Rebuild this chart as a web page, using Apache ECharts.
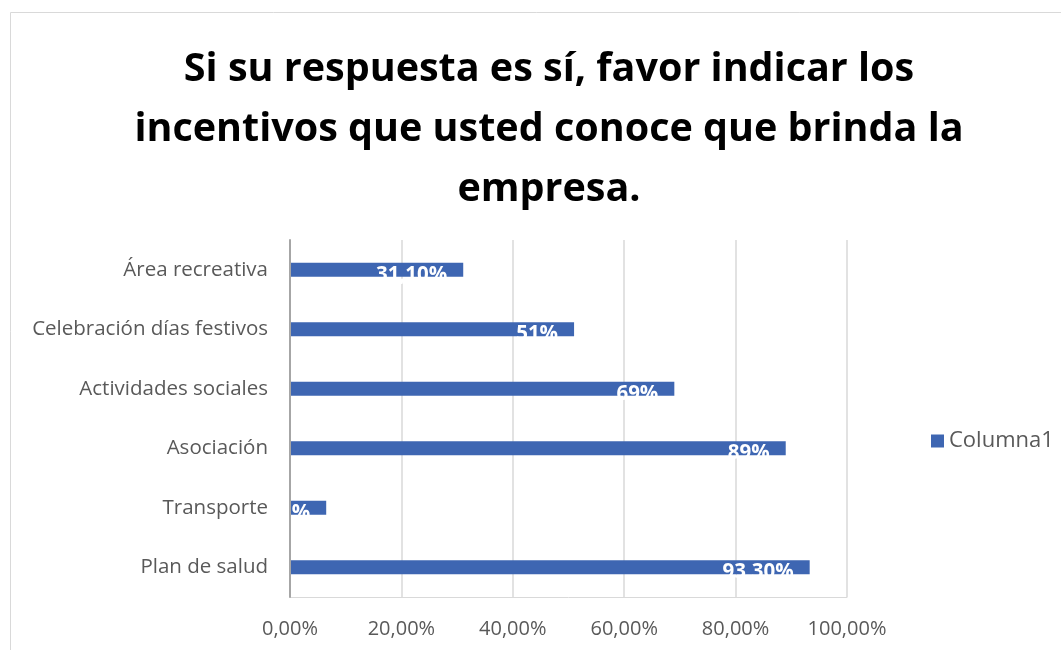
<!DOCTYPE html>
<html><head><meta charset="utf-8">
<script src="https://cdn.jsdelivr.net/npm/echarts@6/dist/echarts.min.js"></script>
<style>html,body{margin:0;padding:0;background:#fff}#c{width:1061px;height:650px}</style>
</head><body><div id="c"></div>
<script>
const titleText = "Si su respuesta es sí, favor indicar los\nincentivos que usted conoce que brinda la\nempresa.";
const categories = ["Plan de salud","Transporte","Asociación","Actividades sociales","Celebración días festivos","Área recreativa"];
const values = [93.3, 6.5, 89, 69, 51, 31.1];
const valueLabels = ["93,30%","6,50%","89%","69%","51%","31,10%"];
const xTicks = [0,20,40,60,80,100];
const seriesName = "Columna1";

const chart = echarts.init(document.getElementById('c'));
const font = "'Open Sans', 'Noto Sans', sans-serif";
chart.setOption({
  animation:false,
  graphic:[{type:'rect',shape:{x:10.5,y:12.5,width:1100,height:700},style:{fill:'none',stroke:'#d9d9d9',lineWidth:1},silent:true,z:-1}],
  title:{text:titleText,left:544,top:35,textAlign:'center',
    textStyle:{fontFamily:font,fontWeight:'bold',fontSize:39.5,lineHeight:60,color:'#000'}},
  legend:{data:[seriesName],left:926,top:425,itemWidth:13,itemHeight:13,icon:'rect',itemGap:6,
    textStyle:{fontFamily:font,fontSize:22,color:'#595959'}},
  grid:{left:290,right:214,top:240,bottom:53,containLabel:false},
  xAxis:{type:'value',min:0,max:100,interval:20,
    axisLabel:{fontFamily:font,fontSize:20,color:'#595959',margin:22,
      formatter:v=>v.toFixed(2).replace('.',',')+'%'},
    splitLine:{lineStyle:{color:'#d9d9d9',width:1.5}},
    axisLine:{show:true,lineStyle:{color:'#d9d9d9'}},axisTick:{show:false}},
  yAxis:{type:'category',data:categories,z:10,
    axisLabel:{fontFamily:font,fontSize:20.5,color:'#595959',margin:22},
    axisLine:{lineStyle:{color:'#a6a6a6',width:2}},axisTick:{show:false}},
  series:[{name:seriesName,type:'bar',data:values,barWidth:14,
    itemStyle:{color:'#3E66B2'},
    label:{show:true,position:'insideRight',distance:16,offset:[0,5],color:'#fff',fontWeight:'bold',
      fontFamily:font,fontSize:20.5,formatter:p=>valueLabels[p.dataIndex]}}]
});
</script></body></html>
